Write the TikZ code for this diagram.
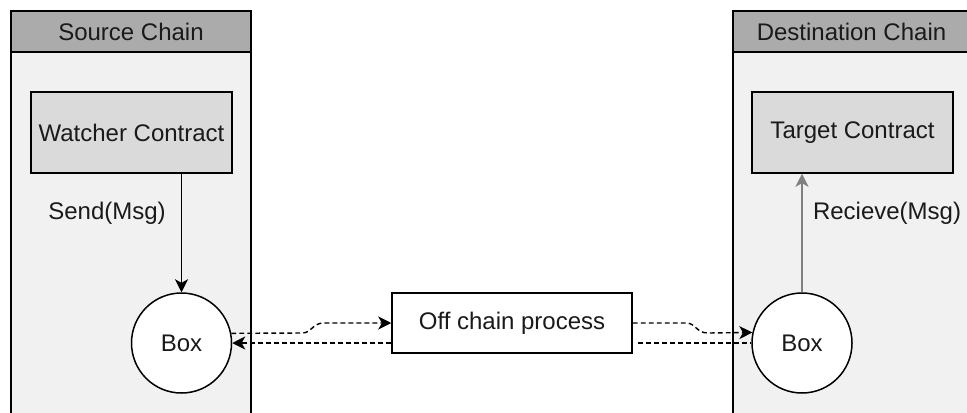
\documentclass[tikz,border=0pt]{standalone}
\usepackage{fontspec}
\setmainfont{Liberation Sans}
\usetikzlibrary{arrows.meta,calc}

\definecolor{laneFill}{HTML}{F1F1F1}
\definecolor{headFill}{HTML}{ABABAB}
\definecolor{boxFill}{HTML}{DADADA}
\definecolor{inkGray}{HTML}{808080}
\definecolor{textInk}{HTML}{1A1A1A}

\tikzset{
  every node/.style={font=\fontsize{12}{14}\selectfont, text=textInk},
  lane/.style={draw=black, line width=0.75pt, fill=laneFill},
  lanehead/.style={draw=black, line width=0.75pt, fill=headFill},
  contract/.style={draw=black, line width=0.75pt, fill=boxFill, rectangle,
    minimum width=100.5pt, minimum height=40.5pt, inner sep=0pt},
  relay/.style={draw=black, line width=0.75pt, fill=white, circle,
    minimum size=50pt, inner sep=0pt},
  process/.style={draw=black, line width=0.75pt, fill=white, rectangle,
    minimum width=120pt, minimum height=30pt, inner sep=0pt},
  tip/.style={-{Stealth[length=6.5pt,width=6.5pt,inset=1.8pt]}},
  flow/.style={tip, line width=0.7pt, draw=black},
  grayflow/.style={tip, line width=1.4pt, draw=inkGray},
  link/.style={line width=0.7pt, draw=black, dash pattern=on 2.4pt off 1.6pt},
  label/.style={inner sep=0pt}
}

\begin{document}
\begin{tikzpicture}[x=0.5pt, y=-0.5pt]
  \useasboundingbox (0,0) rectangle (967,412);
  \clip (0,0) rectangle (967,412);

  % swim lanes
  \draw[lane] (11,11) rectangle (251,440);
  \draw[lanehead] (11,11) rectangle (251,52);
  \node (srctitle) at (131,31.5) {Source Chain};

  \draw[lane] (733,11) rectangle (1000,440);
  \draw[lanehead] (733,11) rectangle (1000,52);
  \node (dsttitle) at (851.5,31.5) {Destination Chain};

  % contracts
  \node[contract] (watcher) at (131.5,132.5) {Watcher Contract};
  \node[contract] (target) at (852.5,132.5) {Target Contract};

  % relay boxes
  \node[relay] (srcbox) at (181.5,343) {Box};
  \node[relay] (dstbox) at (802,343) {Box};

  % off chain process
  \node[process] (offc) at (512,323) {Off chain process};

  % contract calls
  \draw[flow] (srcbox |- watcher.south) -- (srcbox.north);
  \node[label] (sendlbl) at (107,213) {Send(Msg)};

  \draw[grayflow] (dstbox.north) -- (dstbox |- target.south);
  \node[label] (recvlbl) at (887,213) {Recieve(Msg)};

  % relaying between chains
  \coordinate (la) at (srcbox.11.5);
  \coordinate (ra) at (dstbox.168.5);
  \draw[link, tip] (la) -- (302,333) .. controls (312,333) and (312,323) .. (324,323) -- (offc.west);
  \draw[link, tip] ($(offc.west)+(0,20)$) -- (srcbox.east);
  \draw[link, tip] (offc.east) -- (686,323) .. controls (696,323) and (696,333) .. (708,333) -- (ra);
  \draw[link] ($(offc.east)+(5,20)$) -- (dstbox.west);
\end{tikzpicture}
\end{document}
